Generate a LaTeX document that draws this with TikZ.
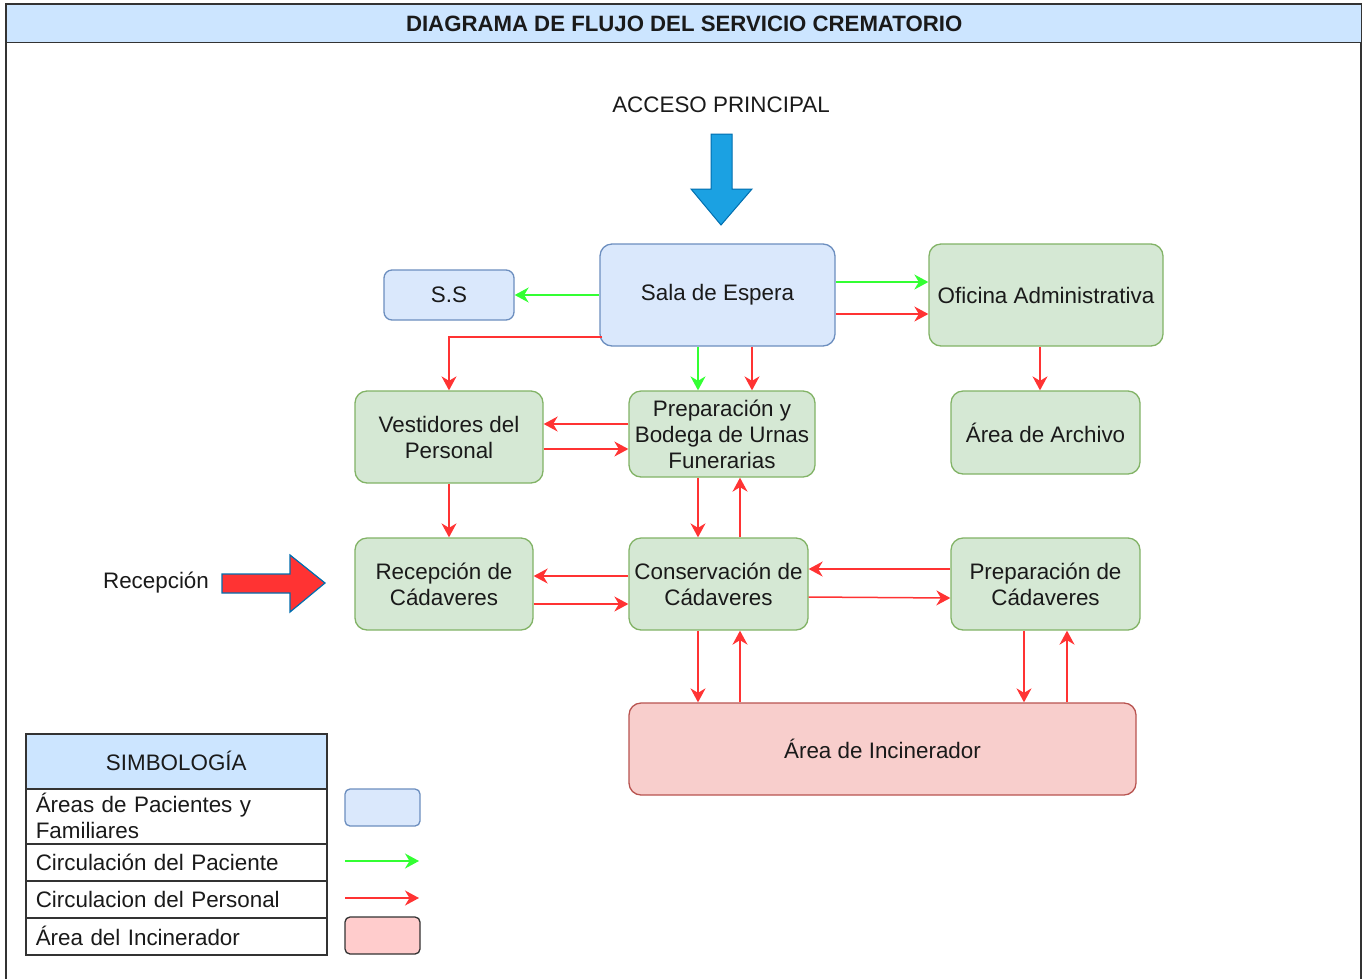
\documentclass[tikz,border=0pt]{standalone}
\usepackage{fontspec}
\setmainfont{Liberation Sans}
\usetikzlibrary{arrows.meta}
\definecolor{bluefill}{HTML}{DAE8FC}
\definecolor{bluestroke}{HTML}{6C8EBF}
\definecolor{greenfill}{HTML}{D5E8D4}
\definecolor{greenstroke}{HTML}{82B366}
\definecolor{redfill}{HTML}{F8CECC}
\definecolor{redstroke}{HTML}{B85450}
\definecolor{titlefill}{HTML}{CCE5FF}
\definecolor{persred}{HTML}{FF3333}
\definecolor{pacgreen}{HTML}{33FF33}
\definecolor{txt}{HTML}{1A1A1A}
\definecolor{frame}{HTML}{333333}
\definecolor{accblue}{HTML}{1BA1E2}
\definecolor{accstroke}{HTML}{006EAF}
\definecolor{legred}{HTML}{FFCCCC}
\begin{document}
\begin{tikzpicture}[x=1pt,y=-1pt,
  every node/.style={font=\fontsize{22.4}{26}\selectfont, text=txt},
  area/.style={draw, line width=1.3pt, rounded corners=12pt, align=center, inner sep=0pt},
  patarea/.style={area, fill=bluefill, draw=bluestroke},
  staffarea/.style={area, fill=greenfill, draw=greenstroke},
  incarea/.style={area, fill=redfill, draw=redstroke},
  staff/.style={draw=persred, line width=1.5pt, -{Stealth[length=14pt,width=15pt,inset=4.5pt]}},
  patient/.style={draw=pacgreen, line width=1.5pt, -{Stealth[length=14pt,width=15pt,inset=4.5pt]}},
  legrow/.style={draw=frame, line width=1.5pt, anchor=north west, minimum width=301pt, text width=281pt, inner xsep=10pt, inner ysep=0pt, align=left},
]
\useasboundingbox (0,0) rectangle (1364,978);
\fill[white] (0,0) rectangle (1364,978);
\draw[frame, line width=1.3pt] (6,4) rectangle (1361,995);
\node[draw=frame, line width=1.3pt, fill=titlefill, minimum width=1355pt, minimum height=38pt, anchor=north west, inner sep=0pt, font=\fontsize{22.2}{26}\selectfont\bfseries] (title) at (6,4) {DIAGRAMA DE FLUJO DEL SERVICIO CREMATORIO};

% access
\node (acc) at (721,105) {ACCESO PRINCIPAL};
\draw[fill=accblue, draw=accstroke, line width=1pt] (711,134) -- (732,134) -- (732,189) -- (752,189) -- (721,225) -- (691,189) -- (711,189) -- cycle;

% reception
\node (rectxt) at (156,583) {Recepción};
\draw[fill=persred, draw=accstroke, line width=1.2pt] (222,574) -- (290,574) -- (290,555) -- (325,583) -- (290,612) -- (290,593) -- (222,593) -- cycle;

% nodes
\node[patarea, minimum width=235pt, minimum height=102pt] (sala) at (717.5,295) {Sala de Espera};
\node[patarea, minimum width=130pt, minimum height=50pt, rounded corners=8pt] (ss) at (449,295) {S.S};
\node[staffarea, minimum width=234pt, minimum height=102pt] (ofi) at (1046,295) {Oficina Administrativa};
\node[staffarea, minimum width=188pt, minimum height=92pt] (vest) at (449,437) {Vestidores del\\Personal};
\node[staffarea, minimum width=186pt, minimum height=86pt] (prep) at (722,434) {Preparación y\\Bodega de Urnas\\Funerarias};
\node[staffarea, minimum width=189pt, minimum height=83pt] (arch) at (1045.5,432.5) {Área de Archivo};
\node[staffarea, minimum width=178pt, minimum height=92pt] (recep) at (444,584) {Recepción de\\Cádaveres};
\node[staffarea, minimum width=179pt, minimum height=92pt] (cons) at (718.5,584) {Conservación de\\Cádaveres};
\node[staffarea, minimum width=189pt, minimum height=92pt] (prepc) at (1045.5,584) {Preparación de\\Cádaveres};
\node[incarea, minimum width=507pt, minimum height=92pt] (inc) at (882.5,749) {Área de Incinerador};

% connectors
\draw[patient] (sala) -- (ss);
\draw[patient] ([yshift=13pt]sala.east) -- ([yshift=13pt]ofi.west);
\draw[staff] ([yshift=-19pt]sala.east) -- ([yshift=-19pt]ofi.west);
\draw[staff] ([xshift=3pt,yshift=-42pt]sala.west) -| (vest.north);
\draw[patient] (sala.south -| 698,0) -- (prep.north -| 698,0);
\draw[staff] (sala.south -| 752,0) -- (prep.north -| 752,0);
\draw[staff] (prep.west |- 0,424) -- (vest.east |- 0,424);
\draw[staff] (vest.east |- 0,449) -- (prep.west |- 0,449);
\draw[staff] (ofi.south -| 1040,0) -- (arch.north -| 1040,0);
\draw[staff] (vest.south) -- (recep.north -| vest.south);
\draw[staff] (prep.south -| 698,0) -- (cons.north -| 698,0);
\draw[staff] (cons.north -| 740,0) -- (prep.south -| 740,0);
\draw[staff] (cons.west |- 0,576) -- (recep.east |- 0,576);
\draw[staff] (recep.east |- 0,604) -- (cons.west |- 0,604);
\draw[staff] (prepc.west |- 0,569) -- (cons.east |- 0,569);
\draw[staff] (cons.east |- 0,597) -- (prepc.west |- 0,598);
\draw[staff] (cons.south -| 698,0) -- (inc.north -| 698,0);
\draw[staff] (inc.north -| 740,0) -- (cons.south -| 740,0);
\draw[staff] (prepc.south -| 1024,0) -- (inc.north -| 1024,0);
\draw[staff] (inc.north -| 1067,0) -- (prepc.south -| 1067,0);

% legend
\node[draw=frame, line width=1.5pt, fill=titlefill, minimum width=301pt, minimum height=55pt, anchor=north west, inner sep=0pt] (leghead) at (25,733) {SIMBOLOGÍA};
\node[legrow, minimum height=55pt] (row1) at (25,788) {Áreas de Pacientes y\\Familiares};
\node[legrow, minimum height=37pt] (row2) at (25,843) {Circulación del Paciente};
\node[legrow, minimum height=37pt] (row3) at (25,880) {Circulacion del Personal};
\node[legrow, minimum height=37pt] (row4) at (25,917) {Área del Incinerador};
\node[fill=bluefill, draw=bluestroke, line width=1.3pt, rounded corners=5pt, minimum width=75pt, minimum height=37pt, inner sep=0pt] (swblue) at (382.5,807.5) {};
\coordinate (g1) at (345,861);
\coordinate (g2) at (419,861);
\draw[patient] (g1) -- (g2);
\coordinate (r1) at (345,898);
\coordinate (r2) at (419,898);
\draw[staff] (r1) -- (r2);
\node[fill=legred, draw=frame, line width=1.3pt, rounded corners=5pt, minimum width=75pt, minimum height=37pt, inner sep=0pt] (swred) at (382.5,935.5) {};
\end{tikzpicture}
\end{document}
